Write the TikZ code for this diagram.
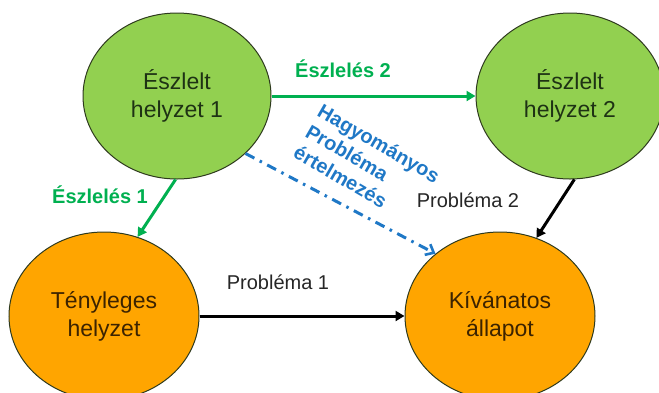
\documentclass[tikz,border=0pt]{standalone}
\usepackage{fontspec}
\setmainfont{Liberation Sans}
\usetikzlibrary{shapes.geometric,arrows.meta}
\definecolor{leafgreen}{HTML}{92D050}
\definecolor{amber}{HTML}{FFA500}
\definecolor{linkgreen}{HTML}{00B050}
\definecolor{linkblue}{HTML}{1F78C6}
\definecolor{greentext}{HTML}{1E3214}
\definecolor{ambertext}{HTML}{3C2300}
\definecolor{rim}{HTML}{2E3A1E}
\begin{document}
\begin{tikzpicture}[x=1pt,y=-1pt,
  state/.style={ellipse, draw=rim, line width=1pt, inner sep=0pt, align=center,
    font=\fontsize{23}{28}\selectfont},
  perceived/.style={state, fill=leafgreen, text=greentext,
    minimum width=188pt, minimum height=166pt},
  actual/.style={state, fill=amber, text=ambertext,
    minimum width=190pt, minimum height=168pt},
  link/.style={line width=3pt, -{Triangle[length=9pt,width=10pt]}},
  greenlink/.style={link, draw=linkgreen},
  blacklink/.style={link, draw=black},
  bluelink/.style={line width=3pt, draw=linkblue,
    dash pattern=on 10pt off 6pt on 2.5pt off 6pt,
    -{Straight Barb[length=7pt,width=12pt,line width=2.6pt]}},
  greenlabel/.style={inner sep=0pt, text=linkgreen, font=\bfseries\fontsize{20}{24}\selectfont},
  plainlabel/.style={inner sep=0pt, text=black!85, font=\fontsize{20}{24}\selectfont},
  bluelabel/.style={inner sep=0pt, text=linkblue, align=left,
    font=\bfseries\fontsize{20}{24}\selectfont}
]
\useasboundingbox (0,0) rectangle (659,392);

% situations
\node[perceived] (e1) at (177,96) {Észlelt\\helyzet 1};
\node[perceived] (e2) at (570,96) {Észlelt\\helyzet 2};
\node[actual] (e3) at (104,316) {Tényleges\\helyzet};
\node[actual] (e4) at (500,316) {Kívánatos\\állapot};

% connections
\draw[greenlink] (e1.east) -- (e2.west);
\draw[greenlink] (e1.-91) -- (e3.67);
\draw[blacklink] (e3.east) -- (e4.west);
\draw[blacklink] (e2.-87) -- (e4.65);
\draw[bluelink] (e1.-40) -- (e4.136);

% labels
\node[greenlabel] (l2) at (343,69) {Észlelés 2};
\node[greenlabel] (l1) at (100,195) {Észlelés 1};
\node[plainlabel] (p1) at (278,282) {Probléma 1};
\node[plainlabel] (p2) at (468,200) {Probléma 2};
\node[bluelabel, rotate=-30] (hp) at (367,164) {Hagyományos\\Probléma\\értelmezés};
\end{tikzpicture}
\end{document}
